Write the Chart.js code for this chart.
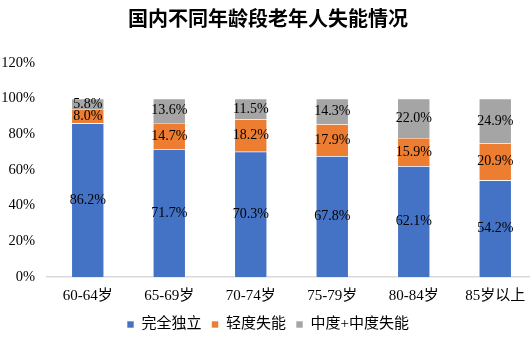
<!DOCTYPE html>
<html>
<head>
<meta charset="utf-8">
<script src="https://cdn.jsdelivr.net/npm/chart.js@4/dist/chart.umd.min.js"></script>
<style>
  html, body { margin:0; padding:0; background:#fff; overflow:hidden; }
  #wrap { width:540px; height:342px; position:relative; }
</style>
</head>
<body>
<div id="wrap"><canvas id="c"></canvas></div>
<script>
const categories = ['60-64岁', '65-69岁', '70-74岁', '75-79岁', '80-84岁', '85岁以上'];
const independent = [86.2, 71.7, 70.3, 67.8, 62.1, 54.2];
const mild = [8.0, 14.7, 18.2, 17.9, 15.9, 20.9];
const moderate = [5.8, 13.6, 11.5, 14.3, 22.0, 24.9];
const yTicks = [0, 20, 40, 60, 80, 100, 120];

const serif = '"Liberation Serif", "Times New Roman", "Noto Sans CJK SC", serif';

// draws the value inside each segment
const valueLabels = {
  id: 'valueLabels',
  afterDatasetsDraw(chart){
    const ctx = chart.ctx;
    ctx.save();
    ctx.font = '14px ' + serif;
    ctx.fillStyle = '#000';
    ctx.textAlign = 'center';
    ctx.textBaseline = 'middle';
    chart.data.datasets.forEach((ds, i)=>{
      const meta = chart.getDatasetMeta(i);
      meta.data.forEach((bar, j)=>{
        const p = bar.getCenterPoint();
        ctx.fillText(ds.data[j].toFixed(1) + '%', p.x, p.y);
      });
    });
    ctx.restore();
  }
};

new Chart(document.getElementById('c'), {
  type: 'bar',
  data: {
    labels: categories,
    datasets: [
      { label:'完全独立', data: independent, backgroundColor:'#4472C4' },
      { label:'轻度失能', data: mild, backgroundColor:'#ED7D31' },
      { label:'中度+中度失能', data: moderate, backgroundColor:'#A5A5A5' }
    ]
  },
  options: {
    responsive: true,
    maintainAspectRatio: false,
    animation: false,
    layout: { padding: { left:0, right:4, top:0, bottom:0 } },
    datasets: { bar: { categoryPercentage: 1, barPercentage: 0.4, borderColor:'#fff', borderWidth: 0.6 } },
    plugins: {
      title: {
        display: true,
        text: '国内不同年龄段老年人失能情况',
        font: { family:'"Noto Sans CJK SC", sans-serif', size: 20, weight:'bold' },
        color: '#000',
        padding: { top: 6, bottom: 33 }
      },
      legend: {
        position: 'bottom',
        labels: {
          font: { family: serif, size: 15 },
          color: '#000',
          boxWidth: 7, boxHeight: 7,
          padding: 10
        }
      },
      tooltip: { enabled:false }
    },
    scales: {
      x: {
        stacked: true,
        grid: { display:false },
        border: { color:'#d9d9d9', width: 1.5 },
        ticks: { font: { family: serif, size: 15 }, color:'#000', padding: 2 }
      },
      y: {
        stacked: true,
        min: 0, max: 120,
        afterBuildTicks(scale){ scale.ticks = yTicks.map(v=>({ value:v })); },
        afterFit(scale){ scale.width = 47; },
        grid: { display:false },
        border: { display:false },
        ticks: {
          font: { family: serif, size: 14.5 }, color:'#000', padding: 4,
          callback: v => v + '%'
        }
      }
    }
  },
  plugins: [valueLabels]
});
</script>
</body>
</html>
